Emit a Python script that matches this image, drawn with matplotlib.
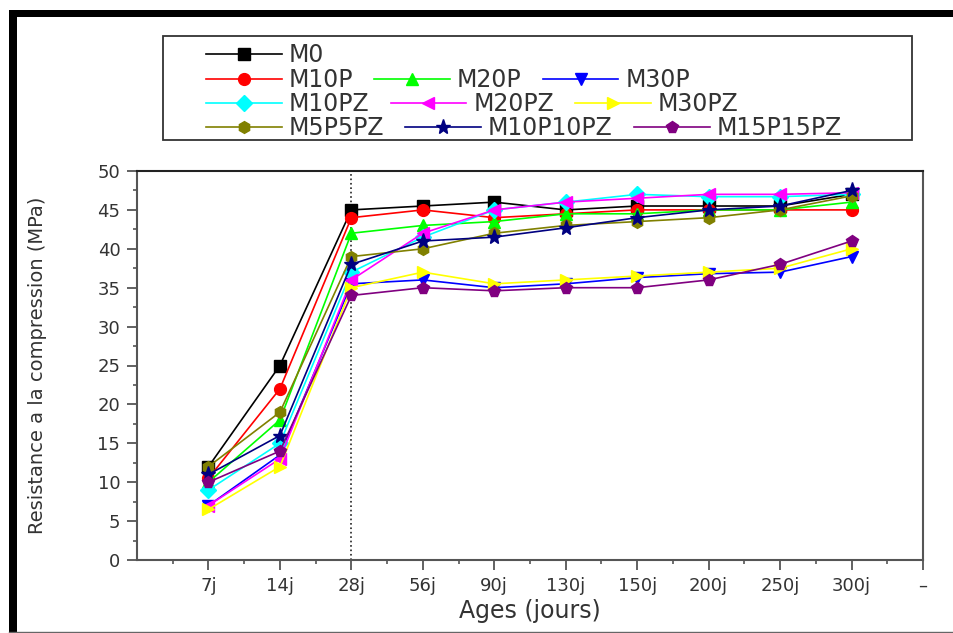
import matplotlib
matplotlib.use('Agg')
import matplotlib.pyplot as plt
from matplotlib.lines import Line2D
from matplotlib.patches import Rectangle
from matplotlib.ticker import MultipleLocator

# --- data ---
ages = ['7j', '14j', '28j', '56j', '90j', '130j', '150j', '200j', '250j', '300j']
tick_labels = ages + ['\u2013']

m0       = [12.0, 25.0, 45.0, 45.5, 46.0, 45.0, 45.5, 45.5, 45.5, 47.0]
m10p     = [10.5, 22.0, 44.0, 45.0, 44.0, 44.5, 45.0, 45.0, 45.0, 45.0]
m20p     = [10.0, 18.0, 42.0, 43.0, 43.5, 44.5, 44.5, 45.0, 45.0, 46.0]
m30p     = [7.0, 13.5, 35.5, 36.0, 35.0, 35.5, 36.3, 36.8, 37.0, 39.0]
m10pz    = [9.0, 15.0, 37.0, 41.5, 45.0, 46.0, 47.0, 46.7, 46.7, 47.0]
m20pz    = [7.0, 13.0, 36.0, 42.0, 45.0, 46.0, 46.5, 47.0, 47.0, 47.2]
m30pz    = [6.5, 12.0, 35.0, 37.0, 35.5, 36.0, 36.5, 37.0, 37.5, 40.0]
m5p5pz   = [12.0, 19.0, 39.0, 40.0, 42.0, 43.0, 43.5, 44.0, 45.0, 46.8]
m10p10pz = [11.0, 16.0, 38.0, 41.0, 41.5, 42.7, 44.0, 45.0, 45.5, 47.5]
m15p15pz = [10.0, 14.0, 34.0, 35.0, 34.6, 35.0, 35.0, 36.0, 38.0, 41.0]

series = [
    ("M0",       m0,       '#000000', 's'),
    ("M10P",     m10p,     '#ff0000', 'o'),
    ("M20P",     m20p,     '#00ff00', '^'),
    ("M30P",     m30p,     '#0000ff', 'v'),
    ("M10PZ",    m10pz,    '#00ffff', 'D'),
    ("M20PZ",    m20pz,    '#ff00ff', '<'),
    ("M30PZ",    m30pz,    '#ffff00', '>'),
    ("M5P5PZ",   m5p5pz,   '#808000', 'h'),
    ("M10P10PZ", m10p10pz, '#000080', '*'),
    ("M15P15PZ", m15p15pz, '#800080', 'p'),
]
legend_rows = [["M0"], ["M10P", "M20P", "M30P"], ["M10PZ", "M20PZ", "M30PZ"],
               ["M5P5PZ", "M10P10PZ", "M15P15PZ"]]

W, H = 954, 633
TXT = '#333333'
SPINE = '#555555'

fig = plt.figure(figsize=(W / 100, H / 100), dpi=100)
fig.patch.set_facecolor('white')
ax = fig.add_axes([137 / W, 1 - 560 / H, (923 - 137) / W, (560 - 171) / H])

x = list(range(1, len(ages) + 1))
handles = {}
for name, vals, col, mk in series:
    ms = 11 if mk == '*' else 8.5
    ln, = ax.plot(x, vals, color=col, lw=1.2, marker=mk, ms=ms,
                  mfc=col, mec=col, label=name)
    handles[name] = ln

ax.axvline(3, color='#222222', ls=':', lw=1.2, zorder=0)

ax.set_xlim(0, 11)
ax.set_ylim(0, 50)
ax.set_xticks(range(1, 12))
ax.set_xticklabels(tick_labels)
ax.set_xticks([i + 0.5 for i in range(0, 11)], minor=True)
ax.yaxis.set_major_locator(MultipleLocator(5))
ax.yaxis.set_minor_locator(MultipleLocator(2.5))
ax.tick_params(which='major', direction='out', length=7, width=1.3,
               color=SPINE, labelcolor=TXT, labelsize=13, pad=5)
ax.tick_params(which='minor', direction='out', length=3, width=1.2, color=SPINE)
for s in ax.spines.values():
    s.set_color(SPINE)
    s.set_linewidth(1.5)
ax.spines['top'].set_color('#222222')

ax.set_xlabel('Ages (jours)', fontsize=17, color=TXT, labelpad=3)
ax.set_ylabel('Resistance a la compression (MPa)', fontsize=14, color=TXT, labelpad=36)

# --- legend, one flowing row per line ---
row_y = [55, 80, 104, 128]
for names, yy in zip(legend_rows, row_y):
    fig.legend([handles[n] for n in names], names, loc='center left',
               bbox_to_anchor=(206 / W, 1 - yy / H), ncol=len(names),
               frameon=False, borderpad=0, borderaxespad=0, fontsize=17,
               handlelength=3.2, handletextpad=0.3, columnspacing=0.9,
               labelcolor=TXT)
fig.add_artist(Rectangle((163 / W, 1 - 140 / H), (912 - 163) / W, 104 / H,
                         transform=fig.transFigure, fill=False,
                         edgecolor='#333333', lw=1.3))

# --- picture frame ---
fig.add_artist(Rectangle((9 / W, 1 - 17 / H), 1 - 9 / W, 7 / H,
                         transform=fig.transFigure, color='black', lw=0))
fig.add_artist(Rectangle((9 / W, 0), 8 / W, 1 - 10 / H,
                         transform=fig.transFigure, color='black', lw=0))
fig.add_artist(Line2D([9 / W, 1], [1.5 / H, 1.5 / H], transform=fig.transFigure,
                      color='#666666', lw=1))

fig.savefig('out.png', dpi=100)
